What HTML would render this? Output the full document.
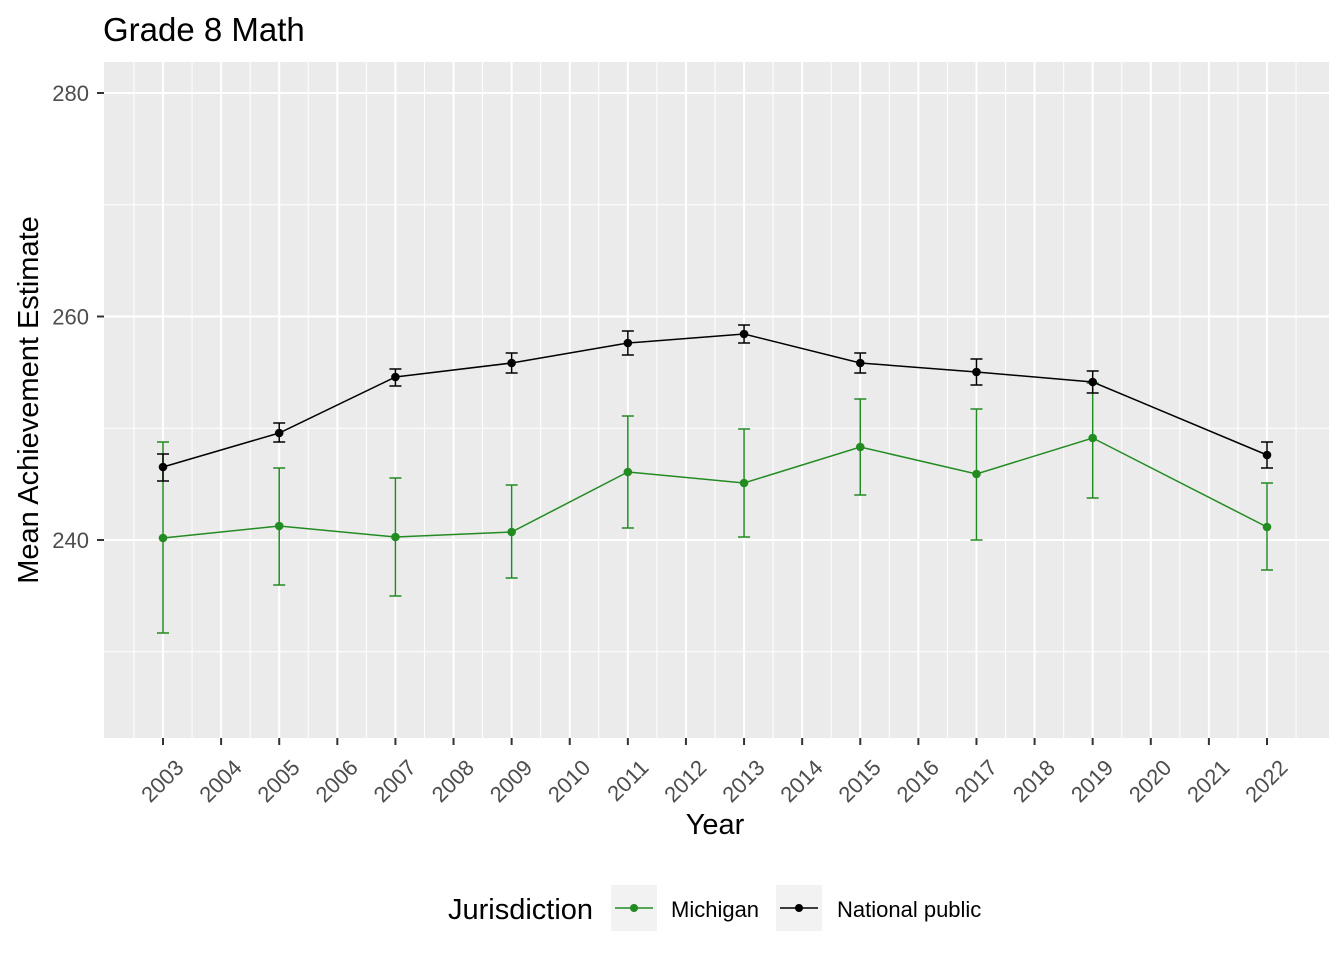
<!DOCTYPE html>
<html><head><style>body{margin:0;background:#fff}svg{display:block}text{font-family:"Liberation Sans",sans-serif}</style></head><body>
<svg width="1344" height="960" xmlns="http://www.w3.org/2000/svg">
<rect width="1344" height="960" fill="#fff"/>
<text x="103" y="41" font-size="33" fill="#000">Grade 8 Math</text>
<rect x="104" y="62" width="1225" height="676" fill="#ebebeb"/>
<g id="grid"></g>
<g id="data"></g>
<g id="ticks"></g>
<text transform="translate(38,400) rotate(-90)" text-anchor="middle" font-size="29" fill="#000">Mean Achievement Estimate</text>
<text x="715" y="834" text-anchor="middle" font-size="29" fill="#000">Year</text>
<text x="448" y="919" font-size="29" fill="#000">Jurisdiction</text>
<rect x="611" y="885" width="46" height="46" fill="#f2f2f2"/>
<line x1="615" y1="908" x2="653" y2="908" stroke="#228b22" stroke-width="1.5"/><circle cx="634" cy="908" r="4" fill="#228b22"/>
<text x="671" y="917" font-size="22">Michigan</text>
<rect x="776" y="885" width="46" height="46" fill="#f2f2f2"/>
<line x1="780" y1="908" x2="818" y2="908" stroke="#000" stroke-width="1.5"/><circle cx="799" cy="908" r="4" fill="#000"/>
<text x="837" y="917" font-size="22">National public</text>
<script>
const ns="http://www.w3.org/2000/svg";
function el(p,t,a){const e=document.createElementNS(ns,t);for(const k in a)e.setAttribute(k,a[k]);p.appendChild(e);return e}
const X=y=>163+(y-2003)*1104/19, Y=v=>540-(v-240)*223.5/20;
const g=document.getElementById('grid'),tk=document.getElementById('ticks'),d=document.getElementById('data');
for(const v of [230,250,270])el(g,'line',{x1:104,x2:1329,y1:Y(v),y2:Y(v),stroke:'#fff','stroke-width':1});
for(let y=2002.5;y<=2022.5;y++)el(g,'line',{x1:X(y),x2:X(y),y1:62,y2:738,stroke:'#fff','stroke-width':1});
for(const v of [240,260,280]){el(g,'line',{x1:104,x2:1329,y1:Y(v),y2:Y(v),stroke:'#fff','stroke-width':2});
el(tk,'line',{x1:97,x2:104,y1:Y(v),y2:Y(v),stroke:'#333','stroke-width':2});
const t=el(tk,'text',{x:89,y:Y(v)+8,'text-anchor':'end','font-size':22,fill:'#4d4d4d'});t.textContent=v;}
for(let y=2003;y<=2022;y++){el(g,'line',{x1:X(y),x2:X(y),y1:62,y2:738,stroke:'#fff','stroke-width':2});
el(tk,'line',{x1:X(y),x2:X(y),y1:738,y2:745,stroke:'#333','stroke-width':2});
const t=el(tk,'text',{transform:`translate(${X(y)+22},769) rotate(-45)`,'text-anchor':'end','font-size':22,fill:'#4d4d4d'});t.textContent=y;}
const yrs=[2003,2005,2007,2009,2011,2013,2015,2017,2019,2022];
const np=[[467,454,481],[433,423,442],[377,369,386],[363,353,373],[343,331,355],[334,325,343],[363,353,373],[372,359,385],[382,371,393],[455,442,468]];
const mi=[[538,442,633],[526,468,585],[537,478,596],[532,485,578],[472,416,528],[483,429,537],[447,399,495],[474,409,540],[438,383,498],[527,483,570]];
function series(arr,c){
el(d,'polyline',{points:arr.map((p,i)=>X(yrs[i])+','+p[0]).join(' '),fill:'none',stroke:c,'stroke-width':1.5});
arr.forEach((p,i)=>{const x=X(yrs[i]);
el(d,'line',{x1:x,x2:x,y1:p[1],y2:p[2],stroke:c,'stroke-width':1.5});
el(d,'line',{x1:x-6,x2:x+6,y1:p[1],y2:p[1],stroke:c,'stroke-width':1.5});
el(d,'line',{x1:x-6,x2:x+6,y1:p[2],y2:p[2],stroke:c,'stroke-width':1.5});
el(d,'circle',{cx:x,cy:p[0],r:4.3,fill:c});});}
series(mi,'#228b22');series(np,'#000');
</script>
</svg></body></html>
